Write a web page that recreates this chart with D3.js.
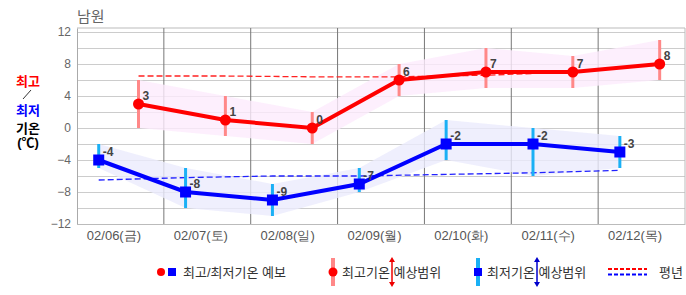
<!DOCTYPE html>
<html>
<head>
<meta charset="utf-8">
<script src="https://cdn.jsdelivr.net/npm/d3@7"></script>
<style>
  body { margin: 0; background: #fff; }
  svg { font-family: "Liberation Sans", "Noto Sans CJK KR", sans-serif; }
</style>
</head>
<body>
<script>
"use strict";

// forecast days
var days = ["2026-02-06", "2026-02-07", "2026-02-08", "2026-02-09", "2026-02-10", "2026-02-11", "2026-02-12"];
var dayLabels = ["02/06(금)", "02/07(토)", "02/08(일)", "02/09(월)", "02/10(화)", "02/11(수)", "02/12(목)"];

// max temps (about 17h) and their expected range
var maxTemp = [3, 1, 0, 6, 7, 7, 8];
var maxLow  = [0, -1, -2, 4, 5, 5, 6];
var maxHigh = [6, 4, 2, 8, 10, 9, 11];

// min temps (about 06h) and their expected range
var minTemp = [-4, -8, -9, -7, -2, -2, -3];
var minLow  = [-5, -10, -11, -8, -4, -6, -5];
var minHigh = [-2, -5, -7, -5, 1, 0, -1];

// normals
var normMax = [6.5, 6.5, 6.4, 6.4, 6.6, 7.0, 7.9];
var normMin = [-6.5, -6.2, -6.0, -6.0, -5.8, -5.6, -5.3];

var yTicks = [-12, -8, -4, 0, 4, 8, 12];

function mainChart(){
  var width = 686, height = 295;
  var left = 77, right = 685, top = 28, bottom = 224;

  var svg = d3.select("body").append("svg")
      .attr("width", width)
      .attr("height", height);

  var parse = d3.timeParse("%Y-%m-%d");
  var dayStart = days.map(function(d){ return parse(d); });
  var end = d3.timeDay.offset(dayStart[dayStart.length - 1], 1);

  var x = d3.scaleTime().domain([dayStart[0], end]).range([left, right]);
  var y = d3.scaleLinear().domain([-12, 12.5]).range([bottom, top]);

  function atHour(i, h){ return d3.timeHour.offset(dayStart[i], h); }

  var maxData = maxTemp.map(function(v, i){
    return {t: atHour(i, 17), v: v, lo: maxLow[i], hi: maxHigh[i], n: normMax[i]};
  });
  var minData = minTemp.map(function(v, i){
    return {t: atHour(i, 6), v: v, lo: minLow[i], hi: minHigh[i], n: normMin[i]};
  });

  // title
  svg.append("text")
      .attr("x", 77).attr("y", 22)
      .attr("fill", "#666")
      .style("font-size", "15px")
      .text("남원");

  // horizontal grid every 2 degrees
  svg.append("g")
      .attr("transform", "translate(" + left + ",0)")
      .call(d3.axisLeft(y).tickValues(d3.range(-12, 13, 2)).tickSize(-(right - left)).tickFormat(""))
      .call(function(g){
        g.select(".domain").remove();
        g.selectAll("line").attr("stroke", "#ccc");
      });

  // frame top
  svg.append("line")
      .attr("x1", left).attr("x2", right)
      .attr("y1", y(12.5)).attr("y2", y(12.5))
      .attr("stroke", "#bbb");

  // day separators
  svg.append("g")
      .selectAll("line")
      .data(dayStart.slice(1).concat([end]))
      .enter().append("line")
        .attr("x1", function(d){ return x(d); })
        .attr("x2", function(d){ return x(d); })
        .attr("y1", y(12.5)).attr("y2", bottom)
        .attr("stroke", function(d, i){ return i === dayStart.length - 1 ? "#bbb" : "#777"; });

  // y axis
  svg.append("g")
      .attr("transform", "translate(" + left + ",0)")
      .call(d3.axisLeft(y).tickValues(yTicks).tickSize(0).tickPadding(6))
      .call(function(g){
        g.select(".domain").attr("stroke", "#aaa");
        g.selectAll("text").attr("fill", "#666").style("font-size", "12px");
      });

  // x axis
  svg.append("g")
      .attr("transform", "translate(0," + bottom + ")")
      .call(d3.axisBottom(x)
        .tickValues(dayStart.map(function(d){ return d3.timeHour.offset(d, 12); }))
        .tickSize(0).tickPadding(7)
        .tickFormat(function(d, i){ return dayLabels[i]; }))
      .call(function(g){
        g.select(".domain").attr("stroke", "#bbb");
        g.selectAll("text").attr("fill", "#555").attr("dx", -7).style("font-size", "13px");
      });

  // y axis title
  var yt = svg.append("g").style("font-weight", "bold").style("font-size", "13px")
      .attr("text-anchor", "middle");
  yt.append("text").attr("x", 28).attr("y", 86).attr("fill", "#f00").text("최고");
  yt.append("line").attr("x1", 23).attr("y1", 99).attr("x2", 31).attr("y2", 90)
      .attr("stroke", "#000").attr("stroke-width", 0.8);
  yt.append("text").attr("x", 28).attr("y", 115).attr("fill", "#00f").text("최저");
  yt.append("text").attr("x", 28).attr("y", 133).attr("fill", "#000").text("기온");
  yt.append("text").attr("x", 28).attr("y", 147).attr("fill", "#000").text("(℃)");

  // range bands
  var band = d3.area()
      .x(function(d){ return x(d.t); })
      .y0(function(d){ return y(d.lo); })
      .y1(function(d){ return y(d.hi); });

  svg.append("path").datum(maxData)
      .attr("d", band)
      .attr("fill", "#fcebfc").attr("fill-opacity", 0.8);
  svg.append("path").datum(minData)
      .attr("d", band)
      .attr("fill", "#ebebfc").attr("fill-opacity", 0.8);

  // normals
  var normLine = d3.line()
      .x(function(d){ return x(d.t); })
      .y(function(d){ return y(d.n); });

  svg.append("path").datum(maxData)
      .attr("d", normLine)
      .attr("fill", "none").attr("stroke", "#f22")
      .attr("stroke-width", 1.3).attr("stroke-dasharray", "6,3");
  svg.append("path").datum(minData)
      .attr("d", normLine)
      .attr("fill", "none").attr("stroke", "#22f")
      .attr("stroke-width", 1.3).attr("stroke-dasharray", "6,3");

  // range bars
  svg.append("g").selectAll("line")
      .data(maxData).enter().append("line")
        .attr("x1", function(d){ return x(d.t); })
        .attr("x2", function(d){ return x(d.t); })
        .attr("y1", function(d){ return y(d.lo); })
        .attr("y2", function(d){ return y(d.hi); })
        .attr("stroke", "#f88").attr("stroke-width", 3);
  svg.append("g").selectAll("line")
      .data(minData).enter().append("line")
        .attr("x1", function(d){ return x(d.t); })
        .attr("x2", function(d){ return x(d.t); })
        .attr("y1", function(d){ return y(d.lo); })
        .attr("y2", function(d){ return y(d.hi); })
        .attr("stroke", "#1ab0f5").attr("stroke-width", 3);

  // forecast lines
  var valLine = d3.line()
      .x(function(d){ return x(d.t); })
      .y(function(d){ return y(d.v); });

  svg.append("path").datum(maxData)
      .attr("d", valLine)
      .attr("fill", "none").attr("stroke", "#f00").attr("stroke-width", 4);
  svg.append("path").datum(minData)
      .attr("d", valLine)
      .attr("fill", "none").attr("stroke", "#00f").attr("stroke-width", 4);

  svg.append("g").selectAll("circle")
      .data(maxData).enter().append("circle")
        .attr("cx", function(d){ return x(d.t); })
        .attr("cy", function(d){ return y(d.v); })
        .attr("r", 5.5)
        .attr("fill", "#f00");
  svg.append("g").selectAll("rect")
      .data(minData).enter().append("rect")
        .attr("x", function(d){ return x(d.t) - 5.5; })
        .attr("y", function(d){ return y(d.v) - 5.5; })
        .attr("width", 11).attr("height", 11)
        .attr("fill", "#00f");

  // value labels
  svg.append("g").selectAll("text")
      .data(maxData.concat(minData)).enter().append("text")
        .attr("x", function(d){ return x(d.t) + 4; })
        .attr("y", function(d){ return y(d.v) - 4.5; })
        .attr("fill", "#444")
        .style("font-size", "12px").style("font-weight", "bold")
        .text(function(d){ return d.v; });

  // legend
  var lg = svg.append("g").style("font-size", "13px");
  var ly = 272;

  lg.append("circle").attr("cx", 161).attr("cy", ly).attr("r", 4).attr("fill", "#f00");
  lg.append("rect").attr("x", 168).attr("y", ly - 4).attr("width", 8).attr("height", 8).attr("fill", "#00f");
  lg.append("text").attr("x", 183).attr("y", ly + 5).attr("fill", "#333").text("최고/최저기온 예보");

  function arrow(cx, color){
    lg.append("line").attr("x1", cx).attr("x2", cx).attr("y1", ly - 11).attr("y2", ly + 11)
        .attr("stroke", color).attr("stroke-width", 1.5);
    lg.append("path").attr("d", "M" + (cx - 3) + "," + (ly - 10) + "L" + cx + "," + (ly - 15) + "L" + (cx + 3) + "," + (ly - 10) + "Z")
        .attr("fill", color);
    lg.append("path").attr("d", "M" + (cx - 3) + "," + (ly + 10) + "L" + cx + "," + (ly + 15) + "L" + (cx + 3) + "," + (ly + 10) + "Z")
        .attr("fill", color);
  }

  lg.append("line").attr("x1", 333).attr("x2", 333).attr("y1", 258).attr("y2", 286)
      .attr("stroke", "#f88").attr("stroke-width", 4);
  lg.append("circle").attr("cx", 333).attr("cy", ly).attr("r", 4.5).attr("fill", "#f00");
  lg.append("text").attr("x", 342).attr("y", ly + 5).attr("fill", "#333").text("최고기온 예상범위");
  arrow(392, "#e00");

  lg.append("line").attr("x1", 478).attr("x2", 478).attr("y1", 258).attr("y2", 286)
      .attr("stroke", "#1ab0f5").attr("stroke-width", 4);
  lg.append("rect").attr("x", 474).attr("y", ly - 4).attr("width", 8).attr("height", 8).attr("fill", "#00f");
  lg.append("text").attr("x", 487).attr("y", ly + 5).attr("fill", "#333").text("최저기온 예상범위");
  arrow(537, "#00c");

  lg.append("line").attr("x1", 608).attr("x2", 647).attr("y1", 269).attr("y2", 269)
      .attr("stroke", "#f00").attr("stroke-width", 2).attr("stroke-dasharray", "4,2");
  lg.append("line").attr("x1", 608).attr("x2", 647).attr("y1", 274.5).attr("y2", 274.5)
      .attr("stroke", "#00f").attr("stroke-width", 2).attr("stroke-dasharray", "4,2");
  lg.append("text").attr("x", 659).attr("y", ly + 5).attr("fill", "#333").text("평년");
}

mainChart();
</script>
</body>
</html>
